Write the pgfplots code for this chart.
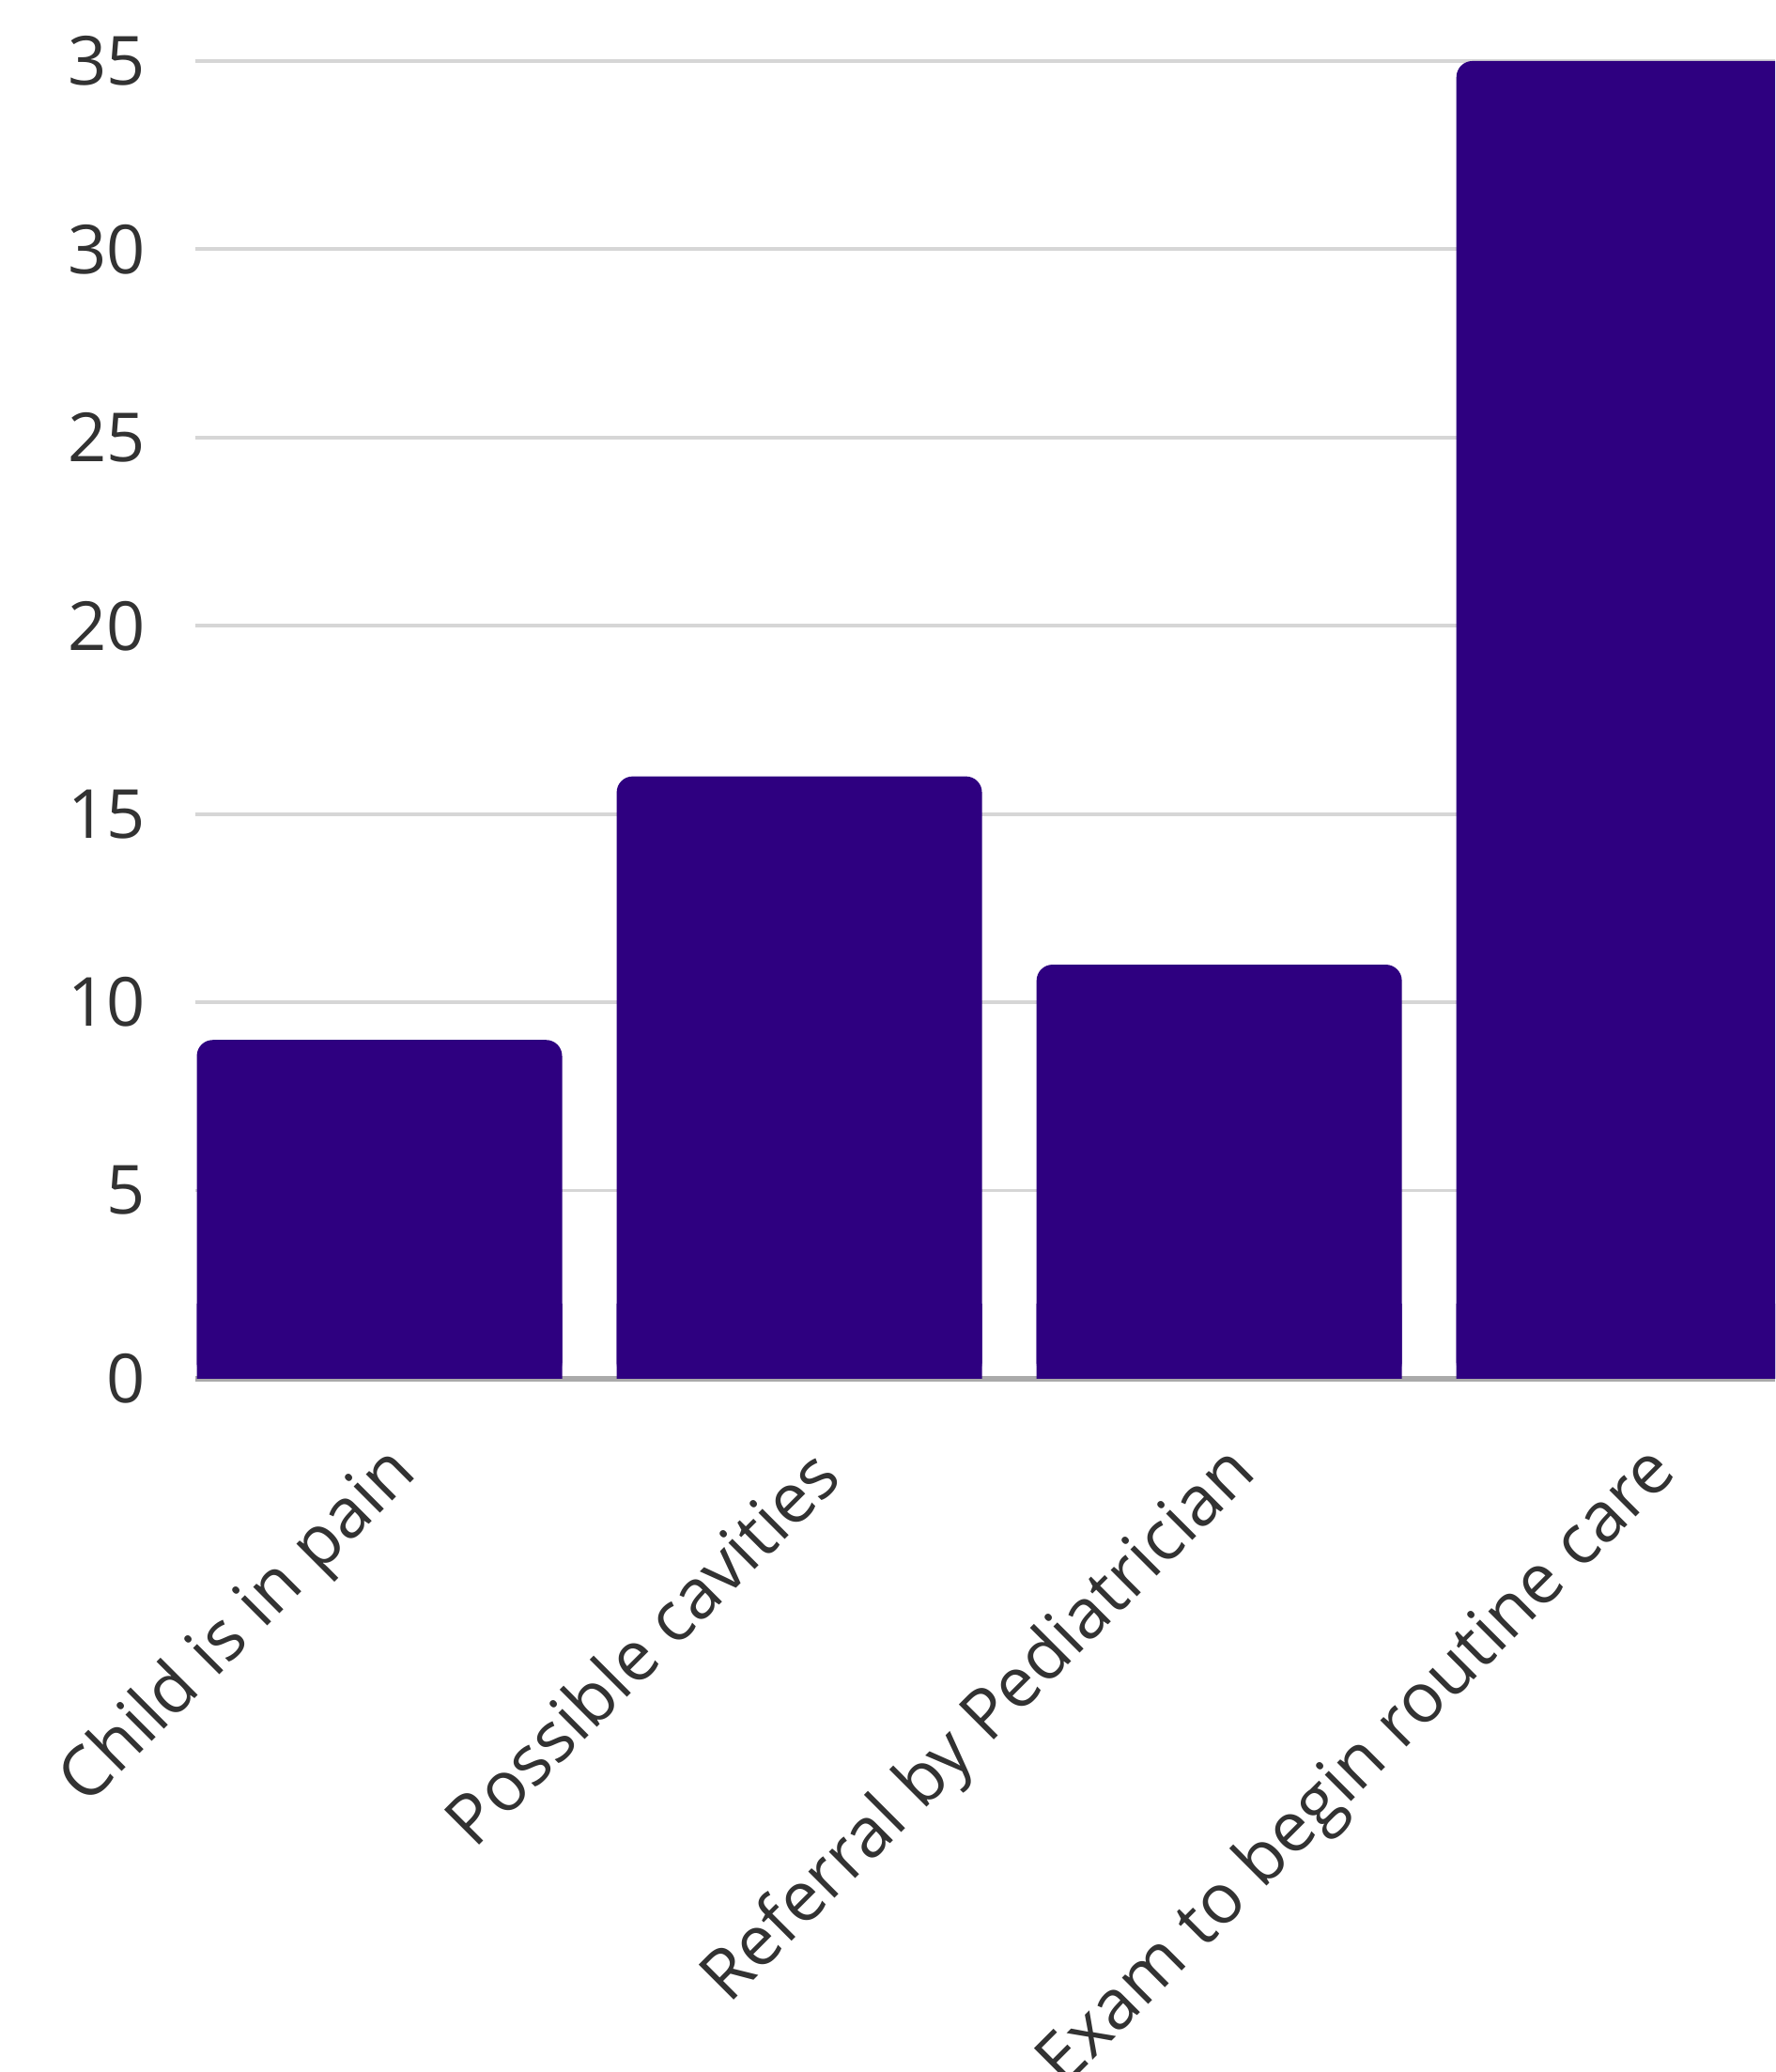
\documentclass[border=0pt]{standalone}
\usepackage{fontspec}
\setmainfont{Open Sans}
\usepackage{pgfplots}
\pgfplotsset{compat=1.18}
\definecolor{barpurple}{RGB}{46,0,128}
\definecolor{gridgray}{RGB}{214,214,214}
\definecolor{basegray}{RGB}{170,170,170}
\definecolor{textgray}{RGB}{50,50,50}

\begin{document}
\begin{tikzpicture}[x=1mm,y=1mm]
  \begin{axis}[
      at={(20.8mm,73.8mm)}, anchor=south west,
      scale only axis,
      width=168.2mm, height=140.3mm,
      xmin=-0.4385, xmax=3.324,
      ymin=0, ymax=35,
      ytick={5,10,...,35},
      extra y ticks={0},
      extra y tick style={grid style={basegray, line width=1.6pt}},
      xtick={0,1,2,3},
      xticklabels={Child is in pain, Possible cavities, Referral by Pediatrician, Exam to begin routine care},
      ymajorgrids,
      grid style={gridgray, line width=1.1pt},
      axis line style={draw=none},
      major tick length=0pt,
      tick style={draw=none},
      /pgf/number format/assume math mode=true,
      yticklabel style={font=\fontsize{20.5}{22}\selectfont, text=textgray, anchor=east, xshift=-4.1mm},
      xticklabel style={font=\fontsize{21}{23}\selectfont, text=textgray, xshift=3.7mm, yshift=-8mm, rotate=45, anchor=east},
      ybar, bar width=0.87,
      clip=true,
    ]
    \addplot[draw=none, fill=barpurple, bar shift=0pt, rounded corners=1.7mm]
      coordinates {(0,9) (1,16) (2,11) (3,35)};
    \addplot[draw=none, fill=barpurple, bar shift=0pt]
      coordinates {(0,2) (1,2) (2,2) (3,2)};
  \end{axis}
  \pgfresetboundingbox
  \useasboundingbox (0,0) rectangle (189,220.6);
\end{tikzpicture}
\end{document}
